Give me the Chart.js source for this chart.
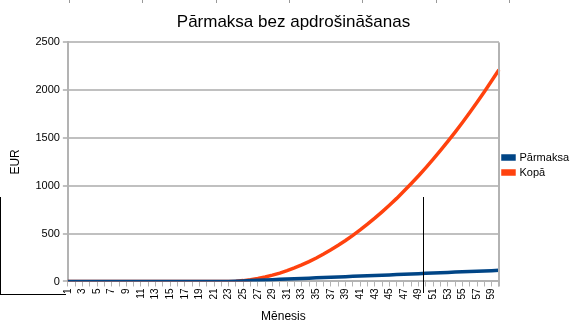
<!DOCTYPE html>
<html>
<head>
<meta charset="utf-8">
<script src="https://cdn.jsdelivr.net/npm/chart.js@4/dist/chart.umd.min.js"></script>
<style>
    body { margin: 0; background: #fff; }
    #wrap { position: relative; width: 583px; height: 331px; }
    .mark { position: absolute; background: #000; }
</style>
</head>
<body>
<div id="wrap">
    <canvas id="chart" width="583" height="331"></canvas>
    <!-- stray sheet lines from the original screenshot -->
    <div class="mark" style="left:0;top:197px;width:1px;height:98px"></div>
    <div class="mark" style="left:0;top:294px;width:66px;height:1px"></div>
    <div class="mark" style="left:423px;top:197px;width:1px;height:96px"></div>
    <div class="mark" style="left:69px;top:0;width:1px;height:3px;background:#999"></div>
    <div class="mark" style="left:142px;top:0;width:1px;height:3px;background:#999"></div>
    <div class="mark" style="left:216px;top:0;width:1px;height:3px;background:#999"></div>
    <div class="mark" style="left:289px;top:0;width:1px;height:3px;background:#999"></div>
    <div class="mark" style="left:362px;top:0;width:1px;height:3px;background:#999"></div>
    <div class="mark" style="left:436px;top:0;width:1px;height:3px;background:#999"></div>
    <div class="mark" style="left:509px;top:0;width:1px;height:3px;background:#999"></div>
</div>
<script>
// Months 1..60
const months = [
    1, 2, 3, 4, 5, 6, 7, 8, 9, 10, 11, 12, 13, 14, 15, 16, 17, 18, 19, 20,
    21, 22, 23, 24, 25, 26, 27, 28, 29, 30, 31, 32, 33, 34, 35, 36, 37, 38, 39, 40,
    41, 42, 43, 44, 45, 46, 47, 48, 49, 50, 51, 52, 53, 54, 55, 56, 57, 58, 59, 60
];

// Monthly overpayment (EUR)
const parmaksa = [
    0, 0, 0, 0, 0, 0, 0, 0, 0, 0, 0, 0, 0, 0, 0, 0, 0, 0, 0, 0,
    0, 0, 0, 3, 6, 9, 13, 16, 19, 22, 25, 28, 32, 35, 38, 41, 44, 47, 50, 54,
    57, 60, 63, 66, 69, 72, 76, 79, 82, 85, 88, 91, 95, 98, 101, 104, 107, 110, 113, 117
];

// Running total (EUR)
const kopa = [
    0, 0, 0, 0, 0, 0, 0, 0, 0, 0, 0, 0, 0, 0, 0, 0, 0, 0, 0, 0,
    0, 0, 0, 3, 9, 19, 32, 47, 66, 88, 113, 142, 173, 208, 246, 287, 331, 378, 428, 482,
    539, 599, 662, 728, 797, 869, 945, 1024, 1106, 1191, 1279, 1370, 1465, 1562, 1663, 1767, 1874, 1985, 2098, 2214
];

const yTicks = [0, 500, 1000, 1500, 2000, 2500];

const FONT = 'Liberation Sans, Arial, sans-serif';

// Right-hand frame line of the plot area
const frameRight = {
    id: 'frameRight',
    afterDraw(chart) {
        const { ctx, chartArea } = chart;
        ctx.save();
        ctx.strokeStyle = '#b3b3b3';
        ctx.lineWidth = 2;
        ctx.beginPath();
        ctx.moveTo(chartArea.right, chartArea.top);
        ctx.lineTo(chartArea.right, chartArea.bottom + 5);
        ctx.stroke();
        ctx.restore();
    }
};

const ctx = document.getElementById('chart').getContext('2d');
new Chart(ctx, {
    type: 'line',
    data: {
        labels: months,
        datasets: [
            {
                label: 'Pārmaksa',
                data: parmaksa,
                borderColor: '#004586',
                backgroundColor: '#004586',
                borderWidth: 3.5,
                pointRadius: 0,
                tension: 0
            },
            {
                label: 'Kopā',
                data: kopa,
                borderColor: '#ff420e',
                backgroundColor: '#ff420e',
                borderWidth: 3.5,
                pointRadius: 0,
                tension: 0
            }
        ]
    },
    options: {
        responsive: false,
        animation: false,
        layout: { padding: { left: 8, right: 4, top: 6, bottom: 7 } },
        plugins: {
            title: {
                display: true,
                text: 'Pārmaksa bez apdrošināšanas',
                color: '#000',
                font: { family: FONT, size: 17, weight: 'normal' },
                padding: { top: 6, bottom: 10 }
            },
            legend: {
                position: 'right',
                labels: {
                    color: '#000',
                    font: { family: FONT, size: 11 },
                    boxWidth: 11,
                    boxHeight: 3,
                    padding: 4
                }
            },
            tooltip: { enabled: false }
        },
        scales: {
            x: {
                offset: false,
                title: {
                    display: true,
                    text: 'Mēnesis',
                    color: '#000',
                    font: { family: FONT, size: 12 },
                    padding: { top: 8, bottom: 0 }
                },
                ticks: {
                    autoSkip: false,
                    minRotation: 90,
                    maxRotation: 90,
                    color: '#000',
                    font: { family: FONT, size: 10 },
                    padding: 2,
                    callback: function(value, index) {
                        return index % 2 === 0 ? String(months[index]) : '';
                    }
                },
                grid: {
                    drawOnChartArea: false,
                    color: '#b3b3b3',
                    tickLength: 5,
                    lineWidth: 1
                },
                border: { color: '#b3b3b3', width: 2 }
            },
            y: {
                min: 0,
                max: 2500,
                afterBuildTicks: function(axis) {
                    axis.ticks = yTicks.map(v => ({ value: v }));
                },
                title: {
                    display: true,
                    text: 'EUR',
                    color: '#000',
                    font: { family: FONT, size: 12 },
                    padding: { top: 0, bottom: 10 }
                },
                ticks: {
                    color: '#000',
                    font: { family: FONT, size: 11 },
                    padding: 3,
                    callback: function(value) { return String(value); }
                },
                grid: {
                    color: '#c0c0c0',
                    tickLength: 5,
                    lineWidth: 2
                },
                border: { color: '#b3b3b3', width: 2 }
            }
        }
    },
    plugins: [frameRight]
});
</script>
</body>
</html>
